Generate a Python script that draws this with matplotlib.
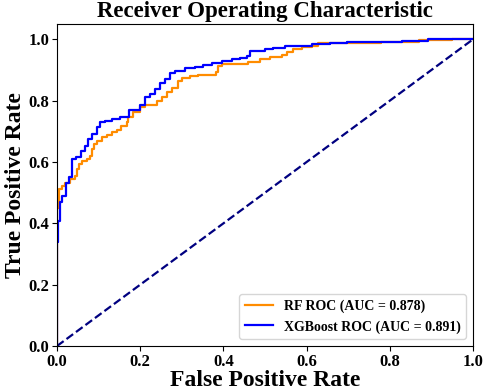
import matplotlib
matplotlib.use("Agg")
import matplotlib.pyplot as plt

plt.rcParams["font.family"] = ["Liberation Serif", "DejaVu Serif"]
plt.rcParams["font.weight"] = "bold"

# ROC points (fpr, tpr after each step)
rf_fpr = [0.0, 0.0, 0.005, 0.011, 0.019, 0.031, 0.043, 0.047, 0.053, 0.059,
          0.071, 0.079, 0.083, 0.090, 0.095, 0.107, 0.119, 0.131, 0.143, 0.155,
          0.168, 0.171, 0.183, 0.200, 0.212, 0.240, 0.252, 0.264, 0.276, 0.292,
          0.300, 0.320, 0.340, 0.381, 0.388, 0.396, 0.432, 0.460, 0.488, 0.512,
          0.540, 0.552, 0.568, 0.588, 0.612, 0.628, 0.780, 0.870, 0.950, 1.0]
rf_tpr = [0.0, 0.451, 0.511, 0.522, 0.530, 0.544, 0.555, 0.577, 0.593, 0.604,
          0.610, 0.621, 0.643, 0.659, 0.670, 0.681, 0.689, 0.697, 0.705, 0.717,
          0.730, 0.746, 0.763, 0.779, 0.787, 0.798, 0.812, 0.829, 0.842, 0.863,
          0.874, 0.881, 0.885, 0.894, 0.914, 0.918, 0.921, 0.927, 0.935, 0.943,
          0.949, 0.960, 0.968, 0.974, 0.979, 0.987, 0.990, 0.998, 1.0, 1.0]

xgb_fpr = [0.0, 0.0, 0.003, 0.007, 0.013, 0.022, 0.029, 0.037, 0.045, 0.058,
           0.067, 0.075, 0.083, 0.095, 0.103, 0.115, 0.131, 0.151, 0.173, 0.200,
           0.212, 0.224, 0.236, 0.248, 0.260, 0.272, 0.284, 0.308, 0.332, 0.352,
           0.372, 0.396, 0.420, 0.440, 0.456, 0.464, 0.500, 0.520, 0.548, 0.612,
           0.656, 0.696, 0.776, 0.829, 0.892, 1.0]
xgb_tpr = [0.0, 0.340, 0.408, 0.468, 0.490, 0.530, 0.552, 0.610, 0.615, 0.637,
           0.653, 0.675, 0.692, 0.714, 0.730, 0.735, 0.741, 0.746, 0.768, 0.785,
           0.812, 0.823, 0.839, 0.856, 0.872, 0.889, 0.896, 0.905, 0.910, 0.916,
           0.923, 0.930, 0.935, 0.940, 0.946, 0.963, 0.968, 0.973, 0.979, 0.984,
           0.987, 0.990, 0.992, 0.996, 1.0, 1.0]

rf_auc = 0.878
xgb_auc = 0.891

fig = plt.figure(figsize=(4.84, 3.92), dpi=100)
ax = fig.add_axes([0.1178, 0.1173, 0.8595, 0.8215])

ax.plot(rf_fpr, rf_tpr, color="darkorange", lw=1.6, drawstyle="steps-post",
        label=f"RF ROC (AUC = {rf_auc:.3f})")
ax.plot(xgb_fpr, xgb_tpr, color="blue", lw=1.6, drawstyle="steps-post",
        label=f"XGBoost ROC (AUC = {xgb_auc:.3f})")
ax.plot([0, 1], [0, 1], color="navy", lw=1.6, linestyle="--")

ax.set_xlim(0.0, 1.0)
ax.set_ylim(0.0, 1.05)
ax.set_xticks([0.0, 0.2, 0.4, 0.6, 0.8, 1.0])
ax.set_yticks([0.0, 0.2, 0.4, 0.6, 0.8, 1.0])
ax.tick_params(labelsize=12, pad=2)
for lab in ax.get_xticklabels() + ax.get_yticklabels():
    lab.set_fontweight("bold")

ax.set_xlabel("False Positive Rate", fontsize=17, fontweight="bold", labelpad=0)
ax.set_ylabel("True Positive Rate", fontsize=17, fontweight="bold", labelpad=2)
ax.set_title("Receiver Operating Characteristic", fontsize=16.5, fontweight="bold", pad=5)

ax.legend(loc="lower right", prop={"weight": "bold", "size": 10})

fig.savefig("out.png", dpi=100)
